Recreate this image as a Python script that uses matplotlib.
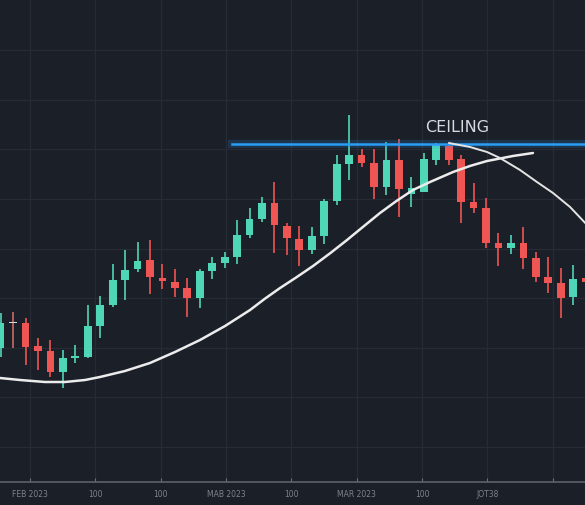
import matplotlib
matplotlib.use("Agg")
import matplotlib.pyplot as plt
from matplotlib import font_manager
import numpy as np

# candle data (price units, arbitrary scale)
opens = [134, 159, 159, 136, 131, 110, 124, 125, 156, 177, 202, 213, 222, 204, 200, 194,
         184, 211, 219, 225, 247, 263, 279, 256, 243, 232, 246, 281, 318, 327, 319, 295,
         322, 288, 290, 322, 336, 323, 280, 274, 239, 234, 239, 224, 205, 199, 185, 204]
closes = [159, 159, 135, 131, 110, 124, 126, 156, 177, 202, 212, 221, 205, 201, 194, 184,
          211, 219, 225, 247, 263, 279, 257, 244, 232, 246, 281, 318, 327, 319, 295, 322,
          293, 294, 323, 337, 322, 280, 274, 239, 234, 239, 224, 205, 199, 184, 203, 200]
highs = [169, 170, 164, 144, 142, 132, 137, 177, 186, 218, 232, 240, 242, 218, 213, 204,
         213, 225, 230, 262, 274, 285, 300, 259, 256, 255, 283, 327, 367, 333, 333, 340,
         343, 305, 329, 339, 340, 327, 299, 284, 249, 247, 255, 230, 225, 214, 217, 210]
lows = [125, 134, 117, 112, 105, 94, 119, 124, 144, 175, 182, 210, 188, 193, 185, 165,
        174, 203, 214, 218, 244, 260, 229, 227, 216, 228, 238, 277, 302, 315, 283, 287,
        265, 275, 290, 317, 317, 259, 269, 234, 216, 228, 213, 200, 189, 164, 177, 194]

# trend curves (candle index, price)
trend_x = [-0.05, 1.56, 3.57, 5.17, 6.78, 7.98, 9.99, 12.0, 14.01, 16.02, 18.03, 20.04,
           21.2, 22.45, 23.8, 25.1, 26.5, 27.83, 29.2, 30.48, 31.8, 33.13, 34.5, 36.35,
           37.7, 39.08, 41.16, 42.77]
trend_y = [104, 102, 100, 100, 102, 105, 111, 119, 130, 142, 156, 172,
           183, 194, 205, 216, 229, 242, 256, 269, 281, 292, 300, 310,
           316, 321, 326, 329]
fall_x = [36.02, 37.71, 39.08, 40.12, 41.73, 43.09, 44.38, 45.75, 47.35]
fall_y = [339, 335, 330, 324, 312, 300, 289, 275, 254]

ceiling = 338.5
tick_labels = ["FEB 2023", "100", "100", "MAB 2023", "100", "MAR 2023", "100", "JOT38", ""]

bg = "#1b1f28"
green = "#4fd6b6"
red = "#ef5552"

names = {f.name for f in font_manager.fontManager.ttflist}
narrow = "Liberation Sans Narrow" if "Liberation Sans Narrow" in names else "DejaVu Sans"

fig = plt.figure(figsize=(5.85, 5.05), dpi=100, facecolor=bg)
ax = fig.add_axes([0, 23 / 505, 1, 482 / 505])
ax.set_facecolor(bg)

idx = np.arange(len(opens))
for i in idx:
    o, c, h, l = opens[i], closes[i], highs[i], lows[i]
    if o == c:
        col = "#d9d9d9"
        wick = "#c86a66"
    elif c > o:
        col = green
        wick = green
    else:
        col = red
        wick = red
    ax.plot([i, i], [l, h], color=wick, lw=1.2, zorder=3, solid_capstyle="butt")
    bottom = min(o, c)
    height = max(abs(c - o), 1.5)
    ax.bar(i, height, bottom=bottom, width=0.62, color=col, zorder=4)

# ceiling line with glow
ax.plot([18.6, 48], [ceiling, ceiling], color="#2a9df4", lw=6, alpha=0.18, zorder=5)
ax.plot([18.6, 48], [ceiling, ceiling], color="#2a9df4", lw=1.8, zorder=6)
ax.text(36.67, 354, "CEILING", color="#d7dadf", fontsize=11.5, ha="center", va="center",
        zorder=7)

ax.plot(trend_x, trend_y, color="#ececec", lw=1.8, zorder=6, solid_capstyle="round",
        solid_joinstyle="round")
ax.plot(fall_x, fall_y, color="#e4e4e4", lw=1.4, zorder=6, solid_capstyle="round",
        solid_joinstyle="round")

ax.set_xlim(-0.05, 46.95)
ax.set_ylim(0, 482)

xt = 2.36 + 5.25 * np.arange(9)
ax.set_xticks(xt)
ax.set_xticklabels(tick_labels, family=narrow)
ax.set_yticks(np.linspace(35, 432, 9))
ax.grid(True, color="#262b35", lw=0.9)
ax.set_axisbelow(True)
ax.tick_params(axis="x", direction="in", length=3, color="#6b717c", labelcolor="#7d838d",
               labelsize=6.5 if narrow != "DejaVu Sans" else 5.5, pad=6)
ax.tick_params(axis="y", left=False, labelleft=False)
for s in ["top", "left", "right"]:
    ax.spines[s].set_visible(False)
ax.spines["bottom"].set_color("#5b616b")
ax.spines["bottom"].set_linewidth(1.2)

fig.savefig("out.png", dpi=100, facecolor=bg)
